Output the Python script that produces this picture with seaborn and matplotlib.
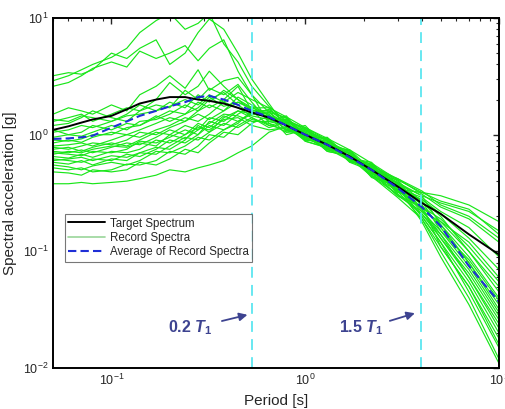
import matplotlib
matplotlib.use("Agg")
import matplotlib.pyplot as plt
import numpy as np
import pandas as pd
import seaborn as sns
from matplotlib.lines import Line2D

periods = [0.05, 0.06, 0.07, 0.08, 0.1, 0.12, 0.14, 0.17, 0.2, 0.24, 0.28, 0.32, 0.38,
           0.45, 0.53, 0.65, 0.8, 1.0, 1.3, 1.7, 2.2, 3.0, 4.0, 5.0, 7.0, 10.0]

target = [1.1, 1.18, 1.27, 1.35, 1.45, 1.65, 1.85, 2.0, 2.1, 2.1, 2.0, 1.95, 1.85,
          1.7, 1.55, 1.4, 1.2, 1.0, 0.82, 0.65, 0.5, 0.36, 0.26, 0.21, 0.14, 0.094]

average = [0.92, 0.93, 0.95, 0.98, 1.15, 1.3, 1.45, 1.6, 1.75, 1.9, 2.1, 2.15, 2.0,
           1.8, 1.6, 1.42, 1.2, 1.0, 0.82, 0.64, 0.5, 0.35, 0.24, 0.165, 0.075, 0.037]

records = [
    [2.9, 3.2, 3.6, 4.0, 4.6, 5.5, 7.5, 9.5, 11, 8.0, 9.0, 11, 6.0, 4.2, 2.6, 1.75, 1.3, 1.15, 0.80, 0.74, 0.50, 0.42, 0.31, 0.24, 0.19, 0.12],
    [2.6, 2.8, 3.2, 3.7, 4.2, 3.8, 5.2, 4.5, 5.0, 5.8, 4.3, 5.5, 6.5, 3.5, 2.2, 1.55, 1.40, 1.00, 0.92, 0.62, 0.56, 0.33, 0.24, 0.17, 0.08, 0.035],
    [3.2, 3.4, 3.3, 3.6, 5.0, 4.5, 5.5, 6.5, 4.0, 5.0, 7.5, 9.8, 8.0, 5.0, 3.0, 1.85, 1.15, 0.90, 0.86, 0.72, 0.46, 0.39, 0.30, 0.26, 0.22, 0.15],
    [1.5, 1.7, 1.6, 1.5, 1.8, 1.6, 2.2, 2.6, 3.2, 2.5, 3.6, 2.4, 2.9, 3.1, 2.2, 1.25, 1.35, 1.12, 0.74, 0.70, 0.44, 0.31, 0.21, 0.13, 0.06, 0.022],
    [1.3, 1.4, 1.5, 1.3, 1.5, 1.7, 1.6, 2.0, 2.8, 2.2, 2.6, 3.5, 2.6, 2.0, 1.6, 1.60, 1.05, 1.15, 0.90, 0.58, 0.55, 0.40, 0.27, 0.15, 0.075, 0.03],
    [1.2, 1.25, 1.4, 1.6, 1.4, 1.3, 1.6, 1.8, 1.7, 2.4, 2.0, 2.5, 2.2, 2.7, 1.9, 1.30, 1.45, 0.88, 0.78, 0.71, 0.47, 0.30, 0.22, 0.18, 0.12, 0.06],
    [1.05, 1.1, 1.2, 1.15, 1.3, 1.45, 1.5, 1.6, 1.9, 1.7, 2.2, 1.9, 2.4, 2.0, 1.7, 1.50, 1.10, 1.20, 0.76, 0.60, 0.53, 0.38, 0.25, 0.11, 0.05, 0.018],
    [0.95, 1.0, 0.97, 1.05, 1.2, 1.1, 1.3, 1.35, 1.5, 1.8, 1.6, 2.0, 2.3, 1.8, 1.5, 1.65, 1.25, 0.92, 0.95, 0.63, 0.58, 0.34, 0.32, 0.30, 0.25, 0.18],
    [0.9, 0.88, 0.92, 1.0, 1.0, 1.15, 1.2, 1.45, 1.3, 1.5, 1.9, 1.7, 2.0, 2.6, 1.6, 1.20, 1.30, 1.05, 0.72, 0.66, 0.44, 0.37, 0.20, 0.12, 0.045, 0.015],
    [0.85, 0.9, 0.86, 0.95, 1.05, 1.0, 1.1, 1.25, 1.4, 1.3, 1.6, 1.8, 1.6, 2.1, 1.8, 1.45, 1.00, 1.10, 0.88, 0.59, 0.52, 0.32, 0.28, 0.20, 0.10, 0.05],
    [0.8, 0.82, 0.85, 0.8, 0.9, 1.0, 0.95, 1.1, 1.2, 1.4, 1.3, 1.5, 1.9, 1.7, 1.45, 1.35, 1.40, 0.95, 0.76, 0.73, 0.47, 0.41, 0.23, 0.14, 0.07, 0.028],
    [0.78, 0.75, 0.8, 0.85, 0.82, 0.9, 1.05, 1.0, 1.15, 1.3, 1.5, 1.35, 1.6, 1.9, 1.7, 1.70, 1.20, 1.08, 0.84, 0.60, 0.54, 0.35, 0.29, 0.22, 0.16, 0.09],
    [0.75, 0.78, 0.72, 0.78, 0.85, 0.8, 0.9, 1.05, 1.0, 1.2, 1.1, 1.4, 1.3, 1.6, 1.4, 1.15, 1.28, 0.90, 0.90, 0.68, 0.45, 0.33, 0.19, 0.10, 0.04, 0.012],
    [0.72, 0.7, 0.74, 0.7, 0.78, 0.85, 0.82, 0.95, 1.1, 1.0, 1.25, 1.15, 1.45, 1.3, 1.55, 1.50, 1.08, 1.12, 0.78, 0.64, 0.56, 0.38, 0.30, 0.17, 0.09, 0.04],
    [0.7, 0.68, 0.66, 0.72, 0.7, 0.75, 0.88, 0.85, 0.95, 1.1, 1.0, 1.3, 1.2, 1.5, 1.75, 1.35, 1.35, 0.94, 0.88, 0.58, 0.49, 0.30, 0.24, 0.19, 0.11, 0.055],
    [0.65, 0.63, 0.68, 0.64, 0.72, 0.7, 0.75, 0.9, 0.85, 1.0, 1.15, 1.1, 1.35, 1.4, 1.2, 1.10, 1.15, 1.02, 0.74, 0.70, 0.43, 0.36, 0.18, 0.09, 0.035, 0.011],
    [0.62, 0.6, 0.58, 0.62, 0.6, 0.68, 0.65, 0.75, 0.9, 0.85, 1.0, 1.2, 1.1, 1.3, 1.5, 1.55, 1.22, 0.90, 0.86, 0.62, 0.52, 0.39, 0.25, 0.16, 0.08, 0.032],
    [0.58, 0.56, 0.6, 0.55, 0.62, 0.6, 0.7, 0.68, 0.8, 0.95, 0.9, 1.05, 1.25, 1.15, 1.35, 1.25, 1.05, 1.06, 0.80, 0.69, 0.50, 0.33, 0.28, 0.21, 0.13, 0.07],
    [0.55, 0.53, 0.5, 0.54, 0.58, 0.55, 0.6, 0.72, 0.7, 0.8, 0.95, 0.9, 1.1, 1.25, 1.6, 1.60, 1.38, 0.98, 0.92, 0.61, 0.55, 0.31, 0.21, 0.14, 0.06, 0.024],
    [0.52, 0.5, 0.52, 0.48, 0.5, 0.56, 0.55, 0.6, 0.72, 0.68, 0.8, 1.0, 0.95, 1.2, 1.4, 1.20, 1.12, 1.05, 0.72, 0.66, 0.45, 0.35, 0.20, 0.12, 0.055, 0.02],
    [0.48, 0.47, 0.45, 0.5, 0.48, 0.5, 0.58, 0.55, 0.62, 0.75, 0.7, 0.85, 1.05, 1.0, 1.25, 1.45, 1.30, 0.92, 0.84, 0.60, 0.54, 0.42, 0.33, 0.25, 0.20, 0.13],
    [0.38, 0.38, 0.39, 0.38, 0.39, 0.4, 0.42, 0.45, 0.5, 0.48, 0.52, 0.55, 0.6, 0.7, 0.8, 1.05, 1.18, 0.96, 0.75, 0.63, 0.44, 0.29, 0.19, 0.11, 0.05, 0.016],
    [1.35, 1.3, 1.45, 1.4, 1.3, 1.5, 1.8, 1.6, 1.75, 2.0, 1.8, 2.2, 1.9, 2.3, 2.0, 1.70, 1.42, 1.15, 0.93, 0.74, 0.57, 0.41, 0.32, 0.27, 0.23, 0.14],
    [1.1, 1.0, 1.05, 1.2, 1.1, 1.25, 1.2, 1.4, 1.6, 1.5, 1.7, 2.1, 1.75, 1.9, 1.65, 1.40, 1.20, 0.88, 0.77, 0.67, 0.48, 0.34, 0.23, 0.13, 0.065, 0.026],
    [0.68, 0.72, 0.7, 0.75, 0.8, 0.78, 0.85, 0.8, 1.0, 0.92, 1.1, 1.25, 1.5, 1.45, 1.3, 1.30, 1.32, 1.10, 0.90, 0.59, 0.53, 0.37, 0.27, 0.18, 0.10, 0.045],
    [0.6, 0.62, 0.64, 0.6, 0.66, 0.64, 0.7, 0.78, 0.75, 0.9, 1.2, 1.05, 1.4, 1.6, 1.5, 1.45, 1.10, 0.96, 0.80, 0.70, 0.47, 0.36, 0.22, 0.15, 0.085, 0.038],
]

t1 = 2.65
marker_factors = [0.2, 1.5]
marker_labels = [r"0.2 $\mathit{T}_{1}$", r"1.5 $\mathit{T}_{1}$"]
label_pos = [(0.255, 0.022), (1.95, 0.022)]
arrow_tail = [(0.36, 0.025), (2.65, 0.025)]
arrow_head = [(0.52, 0.029), (3.8, 0.03)]

sns.set_style("white")
plt.rcParams["font.family"] = ["Liberation Sans", "DejaVu Sans"]
plt.rcParams["mathtext.fontset"] = "custom"
plt.rcParams["mathtext.rm"] = "Liberation Sans:bold"
plt.rcParams["mathtext.it"] = "Liberation Sans:italic:bold"
plt.rcParams["mathtext.bf"] = "Liberation Sans:bold"

rec_df = pd.DataFrame(
    [(i, p, v) for i, rec in enumerate(records) for p, v in zip(periods, rec)],
    columns=["record", "period", "sa"],
)

green = "#19e619"
fig = plt.figure(figsize=(5.06, 4.09), dpi=100)
ax = fig.add_axes([0.105, 0.100, 0.881, 0.856])

sns.lineplot(data=rec_df, x="period", y="sa", units="record", estimator=None,
             color=green, lw=0.85, ax=ax, legend=False)
sns.lineplot(x=periods, y=target, color="black", lw=1.4, ax=ax)
sns.lineplot(x=periods, y=average, color="#1f2fd6", lw=1.5, ls=(0, (4, 2)), ax=ax)

for f in marker_factors:
    ax.axvline(f * t1, color="#5ce6f0", lw=1.3, ls=(0, (6, 4)))

navy = "#3d4390"
for lab, pos, tail, head in zip(marker_labels, label_pos, arrow_tail, arrow_head):
    ax.text(pos[0], pos[1], lab, color=navy, fontsize=11.5, fontweight="bold",
            ha="center", va="center")
    ax.annotate("", xy=head, xytext=tail,
                arrowprops=dict(arrowstyle="-|>", color=navy, lw=1.3, mutation_scale=12))

ax.set_xscale("log")
ax.set_yscale("log")
ax.set_xlim(0.05, 10)
ax.set_ylim(0.01, 10)
ax.set_xlabel("Period [s]", fontsize=11)
ax.set_ylabel("Spectral acceleration [g]", fontsize=11)
ax.tick_params(which="both", direction="in", top=True, right=True, labelsize=9)
ax.tick_params(which="major", length=4.5, width=1)
ax.tick_params(which="minor", length=2.5, width=0.8)
for s in ax.spines.values():
    s.set_color("black")
    s.set_linewidth(1.4)

handles = [
    Line2D([], [], color="black", lw=1.4),
    Line2D([], [], color="#99d699", lw=1.2),
    Line2D([], [], color="#1f2fd6", lw=1.5, ls=(0, (4, 2))),
]
labels = ["Target Spectrum", "Record Spectra", "Average of Record Spectra"]
leg = ax.legend(handles, labels, loc="upper left", bbox_to_anchor=(0.026, 0.44),
                fontsize=8.3, frameon=True, fancybox=False, handlelength=3.2,
                borderpad=0.3, labelspacing=0.2, handletextpad=0.4, borderaxespad=0)
leg.get_frame().set_edgecolor("#555555")
leg.get_frame().set_linewidth(0.8)

fig.savefig("out.png", dpi=100)
